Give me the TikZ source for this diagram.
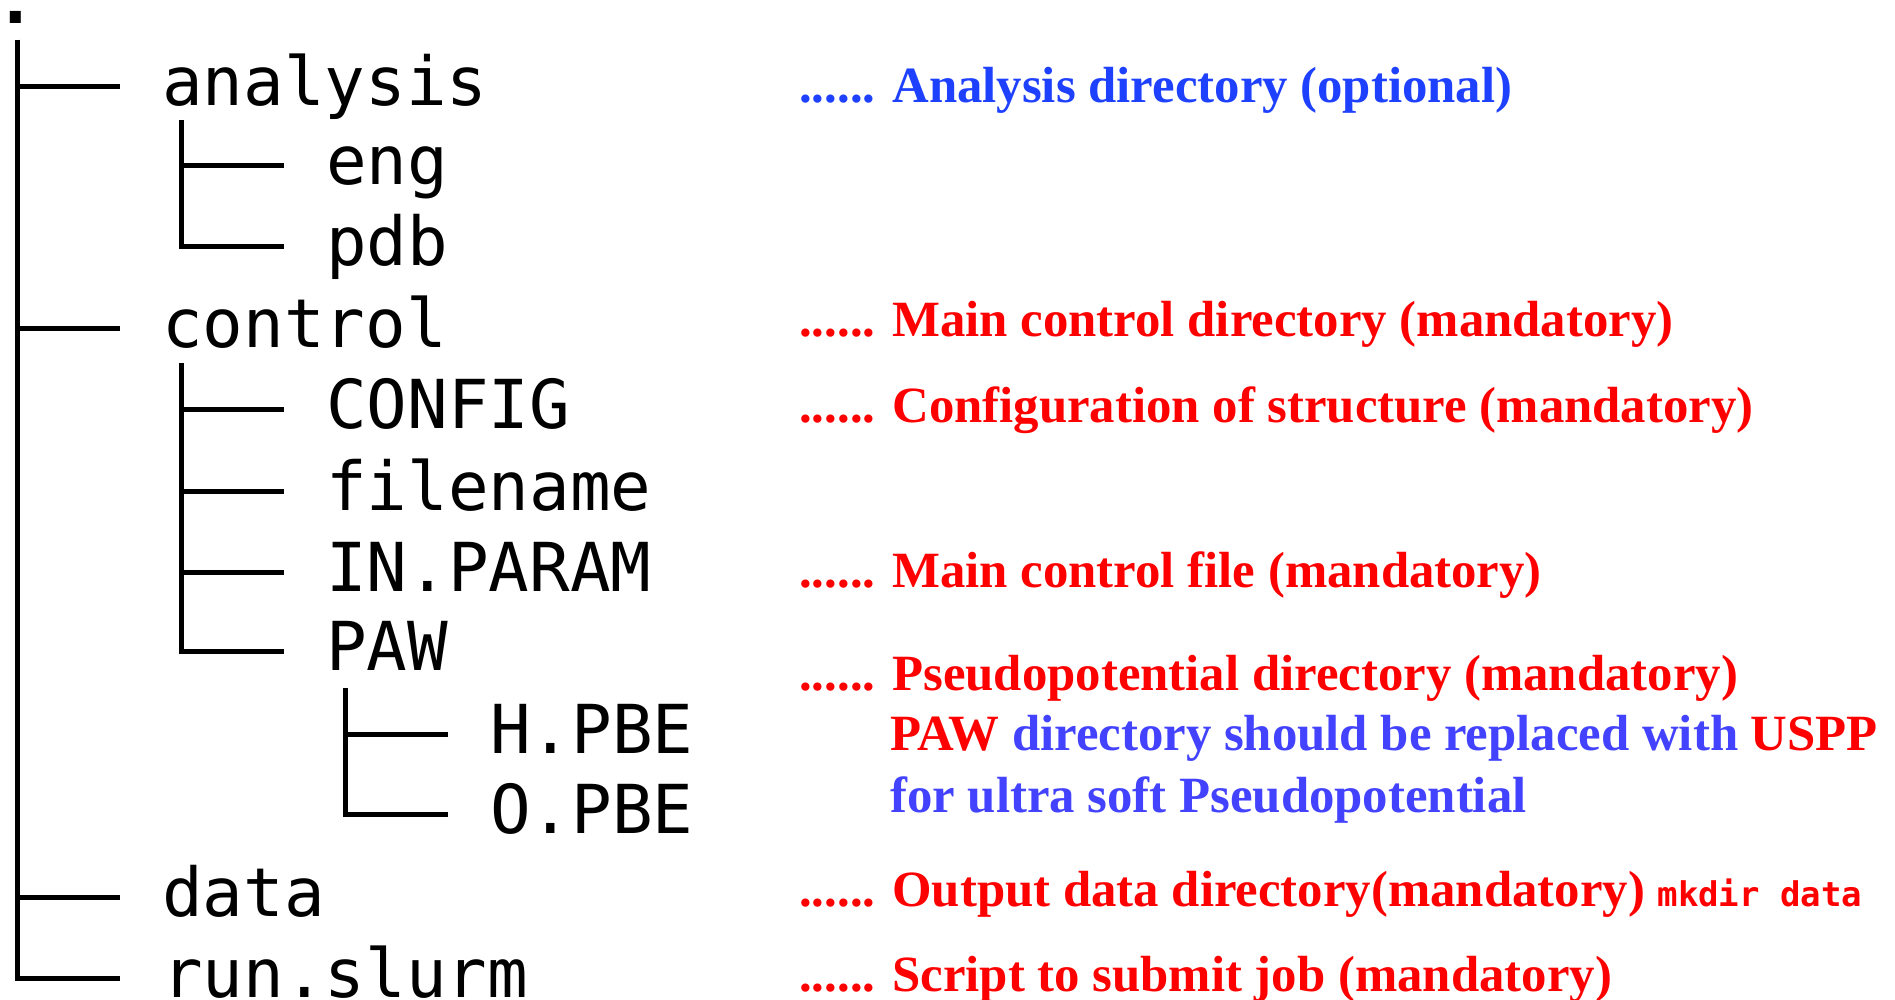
\documentclass[tikz,border=0pt]{standalone}
\usepackage{fontspec}
\usetikzlibrary{calc}
\newfontfamily\treefont{DejaVu Sans Mono}
\newfontfamily\notefont{Liberation Serif}
\newfontfamily\cmdfont{DejaVu Sans Mono}
\definecolor{nred}{HTML}{FF0000}
\definecolor{nblue}{HTML}{1E40FF}
\definecolor{nbluetwo}{HTML}{4242FF}
\begin{document}
\begin{tikzpicture}[x=1pt,y=-1pt,
  item/.style={anchor=base west, inner sep=0pt, font=\treefont\fontsize{67.5}{80}\selectfont},
  note/.style={anchor=base west, inner sep=0pt, font=\notefont\bfseries\fontsize{50.8}{60}\selectfont, text=nred},
  treeline/.style={line width=5pt, black}
]
\useasboundingbox (0,0) rectangle (1895,1000);

% tree items
\node[item, anchor=base, font=\treefont\bfseries\fontsize{67.5}{80}\selectfont] (root) at (16,24) {.};
\node[item] (analysis) at (162,106) {analysis};
\node[item] (eng) at (326,185) {eng};
\node[item] (pdb) at (326,266) {pdb};
\node[item] (control) at (162,347) {control};
\node[item] (config) at (326,428) {CONFIG};
\node[item] (filename) at (326,510) {filename};
\node[item] (inparam) at (326,591) {IN.PARAM};
\node[item] (paw) at (326,670) {PAW};
\node[item] (hpbe) at (490,753) {H.PBE};
\node[item] (opbe) at (490,833) {O.PBE};
\node[item] (data) at (162,916) {data};
\node[item] (runslurm) at (162,997) {run.slurm};

% vertical line tops
\coordinate (rootV) at ($(root.base)+(1,16)$);
\coordinate (analysisV) at ($(analysis.base west)+(19,14)$);
\coordinate (controlV) at ($(control.base west)+(19,16)$);
\coordinate (pawV) at ($(paw.base west)+(19,18)$);

% connectors
\foreach \p/\c in {rootV/analysis, rootV/control, rootV/data, rootV/runslurm,
                   analysisV/eng, analysisV/pdb,
                   controlV/config, controlV/filename, controlV/inparam, controlV/paw,
                   pawV/hpbe, pawV/opbe}
  \draw[treeline] (\p) |- ($(\c.base west)+(-42,-19)$);

% notes
\node[note, text=nblue] (nana) at (799,103) {...... Analysis directory (optional)};
\node[note] (ncontrol) at (799,336) {...... Main control directory (mandatory)};
\node[note] (nconfig) at (799,422) {...... Configuration of structure (mandatory)};
\node[note] (ninparam) at (799,587) {...... Main control file (mandatory)};
\node[note] (npaw) at (799,690) {...... Pseudopotential directory (mandatory)};
\node[note] (npawb) at (890,750) {PAW \textcolor{nbluetwo}{directory should be replaced with} USPP};
\node[note, text=nbluetwo] (npawc) at (890,812) {for ultra soft Pseudopotential};
\node[note] (ndata) at (799,906) {...... Output data directory(mandatory) {\cmdfont\bfseries\fontsize{34}{40}\selectfont mkdir data}};
\node[note] (nrun) at (799,991) {...... Script to submit job (mandatory)};
\end{tikzpicture}
\end{document}
